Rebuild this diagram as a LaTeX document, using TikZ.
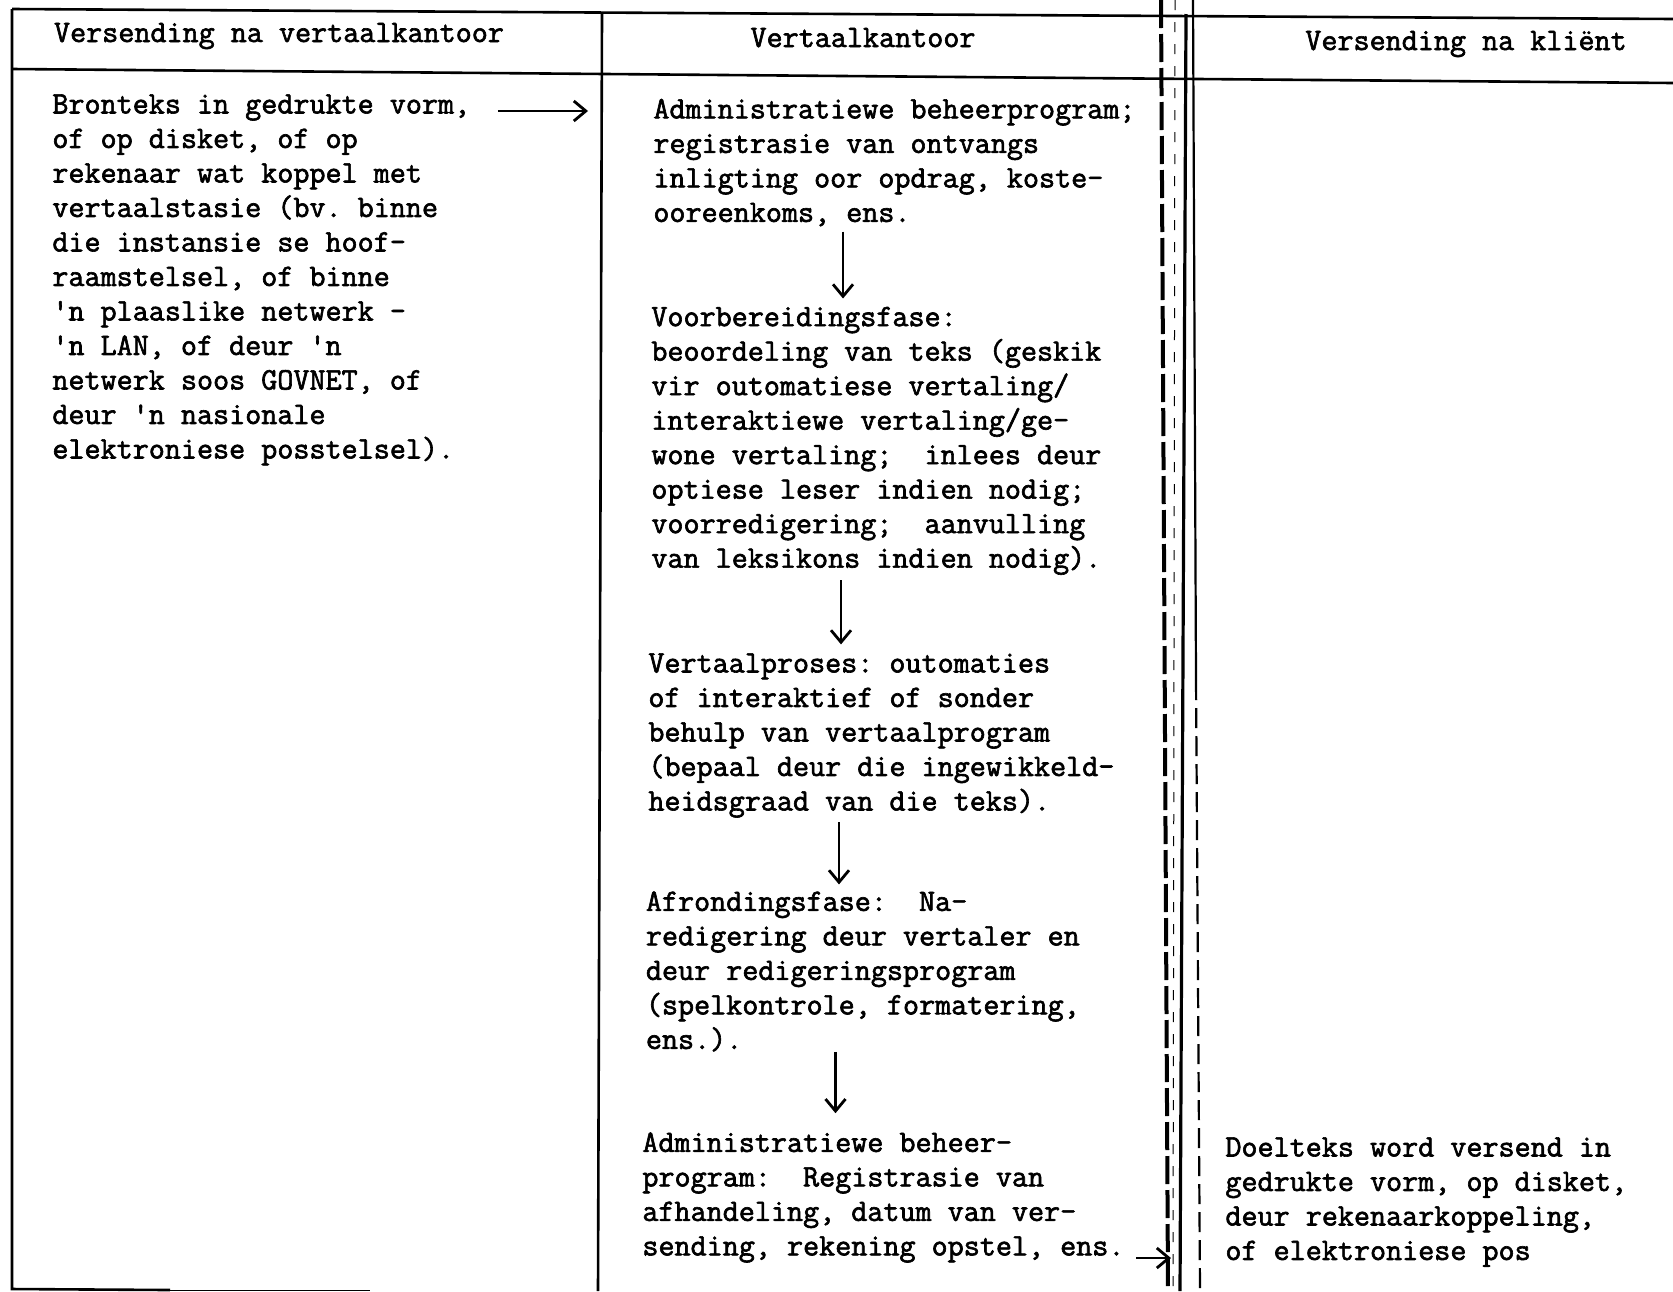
\documentclass[tikz,border=0pt]{standalone}
\usepackage{fontspec}
\usetikzlibrary{arrows.meta}
\newfontfamily\scanfont{Latin Modern Mono}[FakeBold=2,WordSpace={1,0,0},PunctuationSpace=WordSpace]
\newcommand{\tabfont}{\scanfont\fontsize{15.6pt}{17.25pt}\selectfont\frenchspacing}
\begin{document}
\begin{tikzpicture}[x=0.5pt,y=-0.5pt,
	txt/.style={font=\tabfont,inner sep=0pt},
	blk/.style={txt,align=left,anchor=north west},
	rl/.style={line width=1.3pt},
	arr/.style={line width=1.4pt,-{Straight Barb[length=6pt,width=10pt]}}]
	\useasboundingbox (0,0) rectangle (1673,1291);
	% table rules
	\draw[rl] (12,9) -- (1673,19);
	\draw[rl] (12,69) -- (1673,83);
	\draw[rl] (12,9) -- (12,1289) -- (170,1290);
	\draw[line width=0.5pt] (170,1290) -- (370,1290);
	\draw[rl] (602,13) -- (598,1291);
	\draw[line width=2pt,dash pattern=on 14pt off 3pt] (1161,0) -- (1168,1291);
	\draw[line width=0.5pt,dash pattern=on 5pt off 6pt] (1175,0) -- (1173,1291);
	\draw[line width=1.6pt] (1186,14) -- (1180,1291);
	\draw[line width=1.1pt] (1193,0) -- (1196,680);
	\draw[line width=1.1pt,dash pattern=on 10pt off 4pt] (1196,680) -- (1200,1291);
	% headers
	\node[txt,anchor=base] (hd1) at (279,42) {Versending na vertaalkantoor};
	\node[txt,anchor=base] (hd2) at (863,47) {Vertaalkantoor};
	\node[txt,anchor=base] (hd3) at (1466,50) {Versending na kliënt};
	% text blocks
	\node[blk] (src) at (52,94) {Bronteks in gedrukte vorm,\\
		of op disket, of op\\
		rekenaar wat koppel met\\
		vertaalstasie (bv. binne\\
		die instansie se hoof-\\
		raamstelsel, of binne\\
		'n plaaslike netwerk -\\
		'n LAN, of deur 'n\\
		netwerk soos GOVNET, of\\
		deur 'n nasionale\\
		elektroniese posstelsel).};
	\node[blk] (st1) at (653,98.5) {Administratiewe beheerprogram;\\
		registrasie van ontvangs\\
		inligting oor opdrag, koste-\\
		ooreenkoms, ens.};
	\node[blk] (st2) at (651,306.5) {Voorbereidingsfase:\\
		beoordeling van teks (geskik\\
		vir outomatiese vertaling/\\
		interaktiewe vertaling/ge-\\
		wone vertaling;\ \ inlees deur\\
		optiese leser indien nodig;\\
		voorredigering;\ \ aanvulling\\
		van leksikons indien nodig).};
	\node[blk] (st3) at (648,653) {Vertaalproses: outomaties\\
		of interaktief of sonder\\
		behulp van vertaalprogram\\
		(bepaal deur die ingewikkeld-\\
		heidsgraad van die teks).};
	\node[blk] (st4) at (645.5,891) {Afrondingsfase:\ \ Na-\\
		redigering deur vertaler en\\
		deur redigeringsprogram\\
		(spelkontrole, formatering,\\
		ens.).};
	\node[blk] (st5) at (642,1132) {Administratiewe beheer-\\
		program:\ \ Registrasie van\\
		afhandeling, datum van ver-\\
		sending, rekening opstel, ens.};
	\node[blk] (tgt) at (1225,1137) {Doelteks word versend in\\
		gedrukte vorm, op disket,\\
		deur rekenaarkoppeling,\\
		of elektroniese pos};
	% arrows
	\coordinate (p0) at (588,111);
	\coordinate (p1) at (843,0);
	\coordinate (p2) at (841,0);
	\coordinate (p3) at (839,0);
	\coordinate (p4) at (835.5,0);
	\coordinate (p5) at (1171,1258);
	\draw[arr,shorten <=13.7pt] (src.east |- p0) -- (p0);
	\draw[arr,shorten <=2.5pt,shorten >=4pt] (st1.south -| p1) -- (st2.north -| p1);
	\draw[arr,shorten <=2.5pt,shorten >=4.3pt] (st2.south -| p2) -- (st3.north -| p2);
	\draw[arr,shorten <=2pt,shorten >=3.3pt] (st3.south -| p3) -- (st4.north -| p3);
	\draw[arr,shorten <=0pt,shorten >=9.4pt] (st4.south -| p4) -- (st5.north -| p4);
	\draw[arr,shorten <=5.8pt] (st5.east |- p5) -- (p5);
\end{tikzpicture}
\end{document}
